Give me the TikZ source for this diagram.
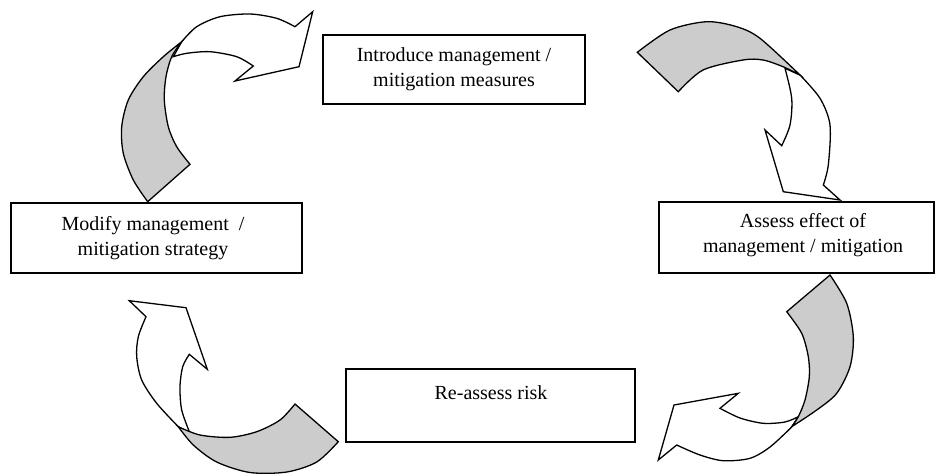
\documentclass[tikz,border=0pt]{standalone}
\usepackage{fontspec}
\setmainfont{Liberation Serif}
\definecolor{ribbongray}{RGB}{204,204,204}
\begin{document}
\begin{tikzpicture}[x=1pt,y=-1pt,
  box/.style={draw=black,line width=1.6pt,fill=white,rectangle,inner sep=0pt},
  lbl/.style={align=center,font=\fontsize{20}{25}\selectfont,inner sep=0pt},
  front/.style={draw=black,line width=1.3pt,fill=white,line join=miter},
  back/.style={draw=black,line width=1.3pt,fill=ribbongray,line join=miter}]
\useasboundingbox (0,0) rectangle (936,475);

% ---------- boxes ----------
\node[box,minimum width=262pt,minimum height=69pt] (intro) at (454,69.5) {};
\node[box,minimum width=291pt,minimum height=70pt] (modify) at (156.5,238) {};
\node[box,minimum width=275pt,minimum height=71pt] (assess) at (796.5,237.5) {};
\node[box,minimum width=289pt,minimum height=73pt] (reassess) at (490.5,405.5) {};

\node[lbl] (introT) at (454,69.5) {Introduce management /\\mitigation measures};
\node[lbl] (modifyT) at (153,238.5) {Modify management~~/\\ mitigation strategy};
\node[lbl] (assessT) at (803,235) {Assess effect of\\management / mitigation};
\node[lbl] (reassessT) at (491,393) {Re-assess risk};

% ---------- arrow 1 (top left, modify -> intro) ----------
\path[front] plot[smooth] coordinates {(181.7,41.7) (196.7,26.7) (220,16.7) (250,14) (276.7,18.3) (295,26.7)}
  -- (312.7,11.7) -- (299,66.7) -- (235,81) -- (253.3,66)
  -- plot[smooth] coordinates {(253.3,66) (236.7,56.7) (210,51.7) (186.7,53.3) (173.3,56.7)} -- cycle;
\path[back] (147.7,201.7) -- (190,164.3)
  -- plot[smooth] coordinates {(190,164.3) (176.7,146.7) (168.3,126.7) (164.3,100) (166,76.7) (171.7,56.7) (181.7,41.7)}
  -- plot[smooth] coordinates {(181.7,41.7) (163.3,56.7) (143.3,76.7) (128.3,100) (121.7,126.7) (123.3,153.3) (133.3,180) (147.7,201.7)} -- cycle;

% ---------- arrow 2 (top right, intro -> assess) ----------
\path[front] (785,68.3) -- plot[smooth] coordinates {(800,75) (820,98.3) (830,125) (828.3,165) (823.3,185)}
  -- (840,200) -- (783.3,191.7) -- (765,130) -- (781.7,145.7)
  -- plot[smooth] coordinates {(781.7,145.7) (790,125) (791.7,98.3) (785,68.3)} -- cycle;
\path[back] (637.3,52.3) -- plot[smooth] coordinates {(637.3,52.3) (670,30) (706.7,21.7) (736.7,26.7) (760,38.3) (800,75)}
  -- plot[smooth] coordinates {(800,75) (783,66.7) (763,60) (743,60) (703,70) (678.3,91.7)} -- cycle;

% ---------- arrow 3 (bottom right, assess -> reassess) ----------
\path[front] (791.7,427) -- (798.3,416.7)
  -- plot[smooth] coordinates {(798.3,416.7) (785,422) (763.3,423.3) (740,418) (720,408.3)}
  -- (738.3,393.3) -- (674,405) -- (658.3,460) -- (676.7,445)
  -- plot[smooth] coordinates {(676.7,445) (700,455) (723.3,460.7) (750,458.3) (770,447) (791.7,427)} -- cycle;
\path[back] (830,275) -- plot[smooth] coordinates {(830,275) (846.7,303.3) (853.3,336.7) (850,366.7) (836.7,393.3) (816.7,410) (791.7,426.7)}
  -- plot[smooth] coordinates {(791.7,426.7) (798.3,416.7) (805,400) (809.3,376.7) (808.3,356.7) (801.7,333.3) (786.7,311.7)} -- cycle;

% ---------- arrow 4 (bottom left, reassess -> modify) ----------
\path[front] plot[smooth] coordinates {(178.3,426.7) (156.7,403.3) (141.7,380) (136.7,356.7) (138.3,336.7) (146,316.7)}
  -- (129.3,300.7) -- (186,307.7) -- (207.3,369.3) -- (189.3,354.3)
  -- plot[smooth] coordinates {(189.3,354.3) (182.7,366.7) (180,386.7) (181.7,410) (190,433.3)} -- cycle;
\path[back] (295,404) -- (338.3,441.7)
  -- plot[smooth] coordinates {(338.3,441.7) (316.7,462) (286.7,472) (250,472.5) (216.7,462) (193.3,445) (178.3,426.7)}
  -- plot[smooth] coordinates {(178.3,426.7) (200,435) (230,437.3) (256.7,431.7) (280,420) (295,404)} -- cycle;
\end{tikzpicture}
\end{document}
